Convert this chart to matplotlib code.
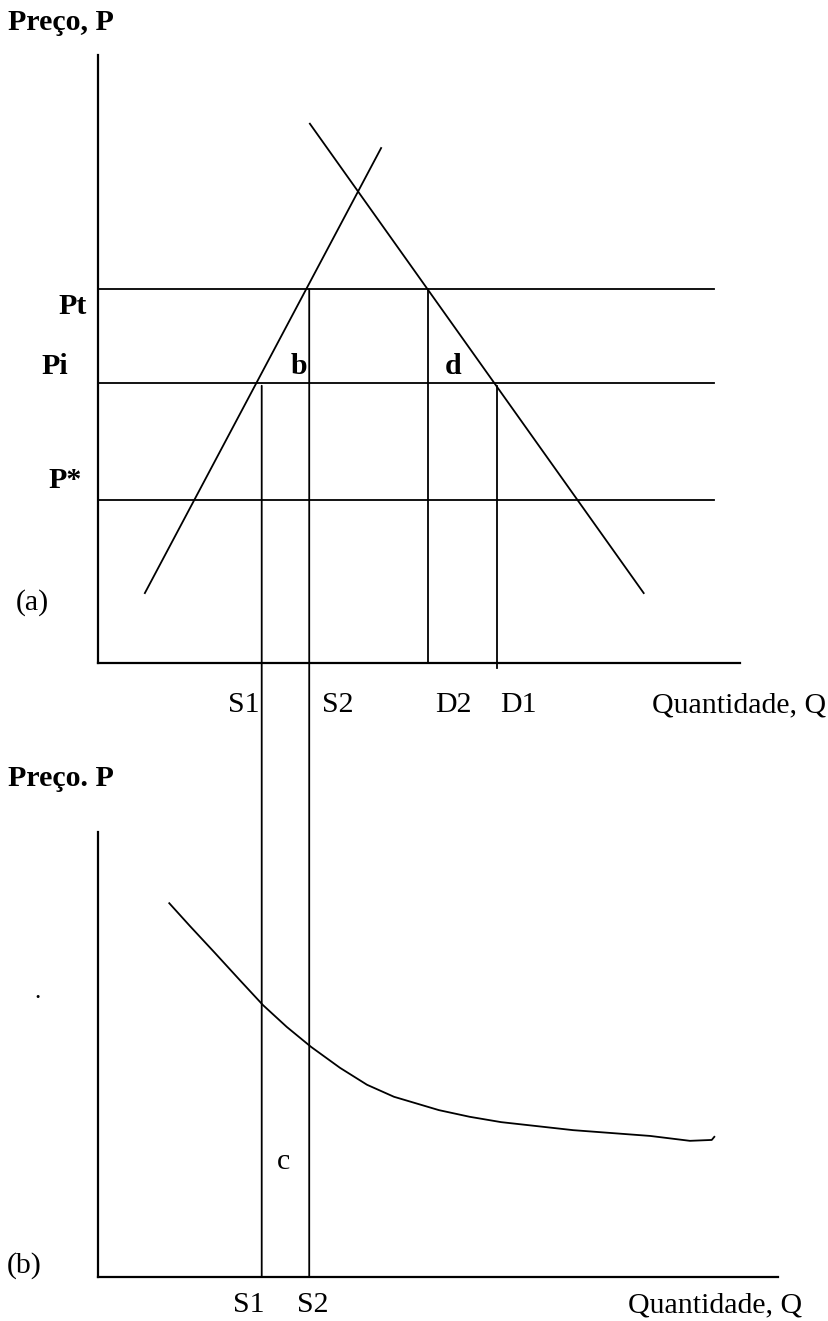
import matplotlib.pyplot as plt
from matplotlib.patches import ConnectionPatch

W, H = 829, 1321

# panel (a): price levels and quantities, axis units 0-100
price_names = ["Pt", "Pi", "P*"]
price_levels = [61.5, 46.1, 26.8]
q_names = ["S1", "S2", "D2", "D1"]
q_values = [25.5, 32.9, 51.4, 62.1]
hline_end = 96.0

supply_q = [7.3, 44.1]
supply_p = [11.5, 84.7]
demand_q = [33.0, 85.0]
demand_p = [88.7, 11.5]

# panel (b): price curve
curve_q = [11.1, 14.3, 18.1, 22.1, 25.7, 29.4, 33.2, 37.7, 41.9, 46.1, 53.1,
           57.9, 62.8, 68.4, 74.0, 86.0, 92.2, 95.6, 96.0]
curve_p = [84.0, 78.9, 73.0, 66.7, 61.1, 56.2, 51.7, 47.0, 43.2, 40.5, 37.5,
           36.0, 34.8, 33.9, 33.0, 31.7, 30.6, 30.8, 31.5]

plt.rcParams['font.family'] = ['Liberation Serif', 'DejaVu Serif']
FS = 21.5
LW = 1.3

fig = plt.figure(figsize=(W / 100, H / 100), dpi=100)


def fig_text(x, y, s, **kw):
    kw.setdefault('fontsize', FS)
    kw.setdefault('va', 'center')
    fig.text(x / W, 1 - y / H, s, **kw)


def setup(ax, xmax):
    ax.set_xlim(0, xmax)
    ax.set_ylim(0, 100)
    for side in ['top', 'right']:
        ax.spines[side].set_visible(False)
    for side in ['left', 'bottom']:
        ax.spines[side].set_linewidth(1.6)
    ax.set_xticks([])
    ax.set_yticks([])
    ax.patch.set_alpha(0)


ax_a = fig.add_axes([98 / W, 1 - 663 / H, 642 / W, 608 / H])
setup(ax_a, 100)
ax_b = fig.add_axes([98 / W, 1 - 1277 / H, 680 / W, 445 / H])
setup(ax_b, 100 * 680 / 642)

# panel (a)
for p in price_levels:
    ax_a.plot([0, hline_end], [p, p], color='black', lw=LW)
ax_a.plot(supply_q, supply_p, color='black', lw=LW)
ax_a.plot(demand_q, demand_p, color='black', lw=LW)

p_t, p_i = price_levels[0], price_levels[1]
q_s1, q_s2, q_d2, q_d1 = q_values
ax_a.plot([q_d2, q_d2], [p_t, 0], color='black', lw=LW)
ax_a.plot([q_d1, q_d1], [p_i - 0.5, -0.8], color='black', lw=LW, clip_on=False)

# S1 and S2 run down through both panels
for q, p in [(q_s1, p_i - 0.5), (q_s2, p_t)]:
    con = ConnectionPatch(xyA=(q, p), coordsA=ax_a.transData,
                          xyB=(q, 0), coordsB=ax_b.transData,
                          color='black', lw=LW)
    fig.add_artist(con)

# panel (b)
ax_b.plot(curve_q, curve_p, color='black', lw=LW, solid_joinstyle='round')

# labels
fig_text(8, 22, "Preço, P", fontweight='bold')
fig_text(87, 307, "Pt", fontweight='bold', ha='right')
fig_text(68, 367, "Pi", fontweight='bold', ha='right')
fig_text(82, 480, "P*", fontweight='bold', ha='right')
fig_text(299, 367, "b", fontweight='bold', ha='center')
fig_text(453, 367, "d", fontweight='bold', ha='center')
fig_text(32, 603, "(a)", ha='center')
fig_text(260, 705, "S1", ha='right')
fig_text(322, 705, "S2")
fig_text(453, 705, "D2", ha='center')
fig_text(518, 705, "D1", ha='center')
fig_text(826, 705, "Quantidade, Q", ha='right')

fig_text(8, 778, "Preço. P", fontweight='bold')
fig_text(284, 1162, "c", ha='center')
fig_text(24, 1266, "(b)", ha='center')
fig_text(265, 1305, "S1", ha='right')
fig_text(313, 1305, "S2", ha='center')
fig_text(802, 1305, "Quantidade, Q", ha='right')
fig_text(37, 1003, ".", ha='center', va='bottom', fontsize=18)

fig.savefig('out.png', dpi=100)
